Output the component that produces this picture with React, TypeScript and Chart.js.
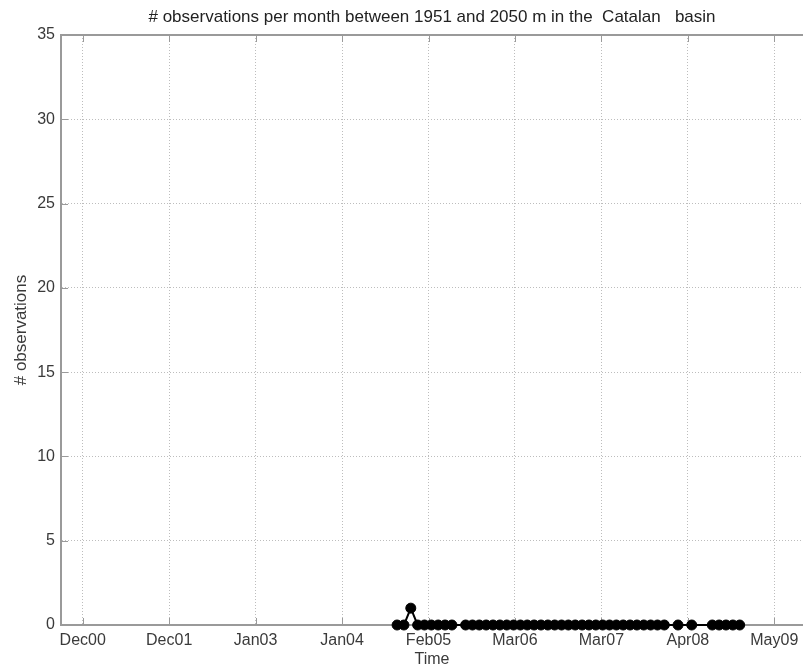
import React, { useEffect, useRef } from "react";
import { Chart, registerables } from "chart.js";

Chart.register(...registerables);

const TITLE = "# observations per month between 1951 and 2050 m in the  Catalan   basin";
const X_TITLE = "Time";
const Y_TITLE = "# observations";

// Monthly samples (month label -> count)
const MONTHS = [
  "Oct04", "Nov04", "Dec04", "Jan05", "Feb05", "Mar05", "Apr05", "May05", "Jun05",
  "Aug05", "Sep05", "Oct05", "Nov05", "Dec05",
  "Jan06", "Feb06", "Mar06", "Apr06", "May06", "Jun06", "Jul06", "Aug06", "Sep06", "Oct06", "Nov06", "Dec06",
  "Jan07", "Feb07", "Mar07", "Apr07", "May07", "Jun07", "Jul07", "Aug07", "Sep07", "Oct07", "Nov07", "Dec07",
  "Jan08", "Mar08", "May08",
  "Aug08", "Sep08", "Oct08", "Nov08", "Dec08",
];
const COUNTS = [
  0, 0, 1, 0, 0, 0, 0, 0, 0,
  0, 0, 0, 0, 0,
  0, 0, 0, 0, 0, 0, 0, 0, 0, 0, 0, 0,
  0, 0, 0, 0, 0, 0, 0, 0, 0, 0, 0, 0,
  0, 0, 0,
  0, 0, 0, 0, 0,
];

// x axis: months since Jan 2000
const X_TICK_LABELS = ["Dec00", "Dec01", "Jan03", "Jan04", "Feb05", "Mar06", "Mar07", "Apr08", "May09"];
const X_TICK_POS = [11.12, 23.74, 36.35, 48.97, 61.59, 74.2, 86.82, 99.44, 112.05];
const X_MIN = 7.95;
const X_MAX = 116.24;
const Y_MIN = 0;
const Y_MAX = 35;
const Y_STEP = 5;

const MONTH_NAMES = ["Jan", "Feb", "Mar", "Apr", "May", "Jun", "Jul", "Aug", "Sep", "Oct", "Nov", "Dec"];
const toMonthIndex = (s: string) =>
  MONTH_NAMES.indexOf(s.slice(0, 3)) + 12 * parseInt(s.slice(3), 10);

const FONT = "'Liberation Sans', Arial, Helvetica, sans-serif";
const AXIS_COLOR = "#9a9a9a";
const TEXT_COLOR = "#3a3a3a";

const frame = {
  id: "frame",
  beforeDatasetsDraw(chart: any) {
    const { ctx, chartArea, scales } = chart;
    const { left, right, top, bottom } = chartArea;
    ctx.save();
    ctx.strokeStyle = AXIS_COLOR;
    ctx.lineWidth = 2;
    ctx.beginPath();
    ctx.moveTo(left - 1, top);
    ctx.lineTo(right, top);
    ctx.stroke();
    ctx.lineWidth = 1;
    const tl = 7;
    scales.x.ticks.forEach((t: any) => {
      const px = Math.round(scales.x.getPixelForValue(t.value)) + 0.5;
      ctx.beginPath();
      ctx.moveTo(px, bottom);
      ctx.lineTo(px, bottom - tl);
      ctx.moveTo(px, top);
      ctx.lineTo(px, top + tl);
      ctx.stroke();
    });
    scales.y.ticks.forEach((t: any) => {
      const py = Math.round(scales.y.getPixelForValue(t.value)) + 0.5;
      ctx.beginPath();
      ctx.moveTo(left, py);
      ctx.lineTo(left + tl, py);
      ctx.stroke();
    });
    ctx.restore();
  },
};

export default function App() {
  const ref = useRef<HTMLCanvasElement | null>(null);

  useEffect(() => {
    if (!ref.current) return;
    const data = MONTHS.map((m, i) => ({ x: toMonthIndex(m), y: COUNTS[i] }));
    const chart = new Chart(ref.current, {
      type: "line",
      data: {
        datasets: [
          {
            data,
            borderColor: "#000",
            backgroundColor: "#000",
            borderWidth: 2,
            pointRadius: 5,
            pointBorderWidth: 1,
            pointBackgroundColor: "#000",
            pointBorderColor: "#000",
            tension: 0,
            clip: false as any,
          },
        ],
      },
      options: {
        animation: false,
        responsive: false,
        devicePixelRatio: 1,
        layout: { padding: 0, autoPadding: false },
        plugins: {
          legend: { display: false },
          tooltip: { enabled: false },
          title: {
            display: true,
            fullSize: false,
            text: TITLE,
            color: "#222",
            font: { family: FONT, size: 17, weight: "normal" },
            padding: { top: 7, bottom: 7.6 },
          },
        },
        scales: {
          x: {
            type: "linear",
            min: X_MIN,
            max: X_MAX,
            afterBuildTicks: (s: any) => {
              s.ticks = X_TICK_POS.map((v) => ({ value: v }));
            },
            afterFit: (s: any) => {
              s.height = 46;
              s.paddingLeft = 0;
              s.paddingRight = 0;
            },
            ticks: {
              autoSkip: false,
              maxRotation: 0,
              padding: 6,
              color: TEXT_COLOR,
              font: { family: FONT, size: 16 },
              callback: (_v: any, i: number) => X_TICK_LABELS[i],
            },
            grid: {
              drawTicks: false,
              color: "#bdbdbd",
              lineWidth: 1,
            },
            border: { display: true, color: AXIS_COLOR, width: 2, dash: [1, 2] },
            title: {
              display: true,
              text: X_TITLE,
              color: TEXT_COLOR,
              font: { family: FONT, size: 16 },
              padding: { top: 0, bottom: 2 },
            },
          },
          y: {
            type: "linear",
            min: Y_MIN,
            max: Y_MAX,
            afterFit: (s: any) => {
              s.width = 61;
            },
            ticks: {
              stepSize: Y_STEP,
              padding: 6,
              color: TEXT_COLOR,
              font: { family: FONT, size: 16 },
            },
            grid: {
              drawTicks: false,
              color: "#bdbdbd",
              lineWidth: 1,
            },
            border: { display: true, color: AXIS_COLOR, width: 2, dash: [1, 2] },
            title: {
              display: true,
              text: Y_TITLE,
              color: TEXT_COLOR,
              font: { family: FONT, size: 17 },
              padding: { top: 11, bottom: 0 },
            },
          },
        },
      },
      plugins: [frame],
    } as any);
    return () => chart.destroy();
  }, []);

  return (
    <div style={{ position: "absolute", left: 0, top: 0, width: 803, height: 671, background: "#fff" }}>
      <canvas ref={ref} width={803} height={671} style={{ display: "block" }} />
    </div>
  );
}
